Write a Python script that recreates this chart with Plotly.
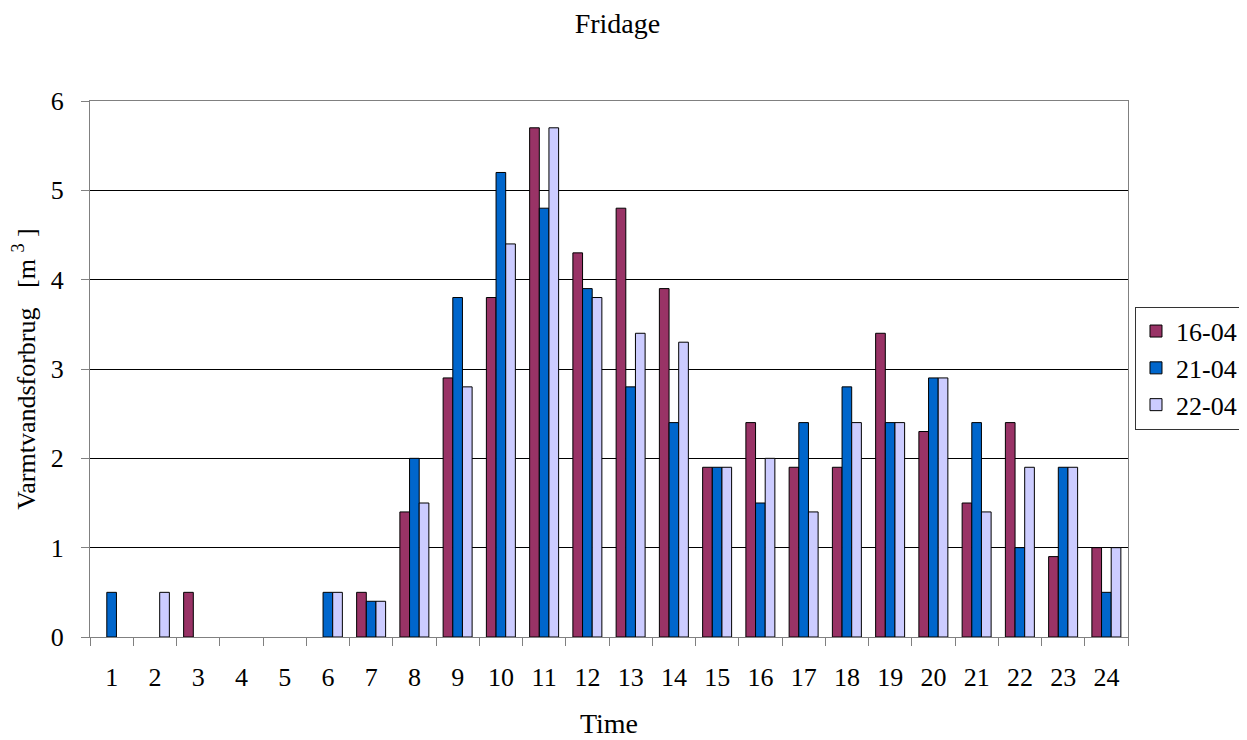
import plotly.graph_objects as go

hours = [str(h) for h in range(1, 25)]
s1604 = [0, 0, 0.5, 0, 0, 0, 0.5, 1.4, 2.9, 3.8, 5.7, 4.3, 4.8, 3.9, 1.9, 2.4, 1.9, 1.9, 3.4, 2.3, 1.5, 2.4, 0.9, 1.0]
s2104 = [0.5, 0, 0, 0, 0, 0.5, 0.4, 2.0, 3.8, 5.2, 4.8, 3.9, 2.8, 2.4, 1.9, 1.5, 2.4, 2.8, 2.4, 2.9, 2.4, 1.0, 1.9, 0.5]
s2204 = [0, 0.5, 0, 0, 0, 0.5, 0.4, 1.5, 2.8, 4.4, 5.7, 3.8, 3.4, 3.3, 1.9, 2.0, 1.4, 2.4, 2.4, 2.9, 1.4, 1.9, 1.9, 1.0]

series = [("16-04", s1604, "#993366"), ("21-04", s2104, "#0066CC"), ("22-04", s2204, "#CCCCFF")]

fig = go.Figure()
for name, vals, col in series:
    shown = [v if v != 0 else None for v in vals]
    fig.add_trace(go.Bar(x=hours, y=shown, name=name,
                         marker=dict(color=col, line=dict(color="black", width=1))))

font = "Liberation Serif, Times New Roman, serif"
nb = "\u00a0"
ytitle = "Varmtvandsforbrug" + nb * 3 + "[m" + nb + "<sup>3</sup>" + nb + "]"
fig.update_layout(
    width=1239, height=732,
    margin=dict(l=82, r=119, t=93, b=103, autoexpand=False),
    paper_bgcolor="white", plot_bgcolor="white",
    barmode="group", bargap=0.33, bargroupgap=0,
    font=dict(family=font, size=26, color="black"),
    title=dict(text="Fridage", x=0.4919, xanchor="center", y=0.9795, yanchor="middle",
               font=dict(family=font, size=28, color="black")),
    legend=dict(xref="container", yref="container", x=0.9096, xanchor="left", y=0.508, yanchor="middle",
                bordercolor="#333333", borderwidth=1, font=dict(family=font, size=26),
                tracegroupgap=0, itemwidth=30),
    xaxis=dict(type="category", automargin=False,
               title=dict(text="Time", standoff=22, font=dict(size=28)),
               showline=True, linecolor="#808080", linewidth=1, mirror=True,
               ticks="outside", ticklen=8, tickcolor="#808080", tickson="boundaries",
               showgrid=False, tickfont=dict(size=26), ticklabelstandoff=17),
    yaxis=dict(range=[0, 6], dtick=1, automargin=False,
               title=dict(text=ytitle, standoff=12, font=dict(size=26)),
               showline=True, linecolor="#808080", linewidth=1, mirror=True,
               ticks="outside", ticklen=8, tickcolor="#808080",
               showgrid=True, gridcolor="black", gridwidth=1, zeroline=False,
               tickfont=dict(size=26), ticklabelstandoff=12),
)
fig.write_html("out.html")
